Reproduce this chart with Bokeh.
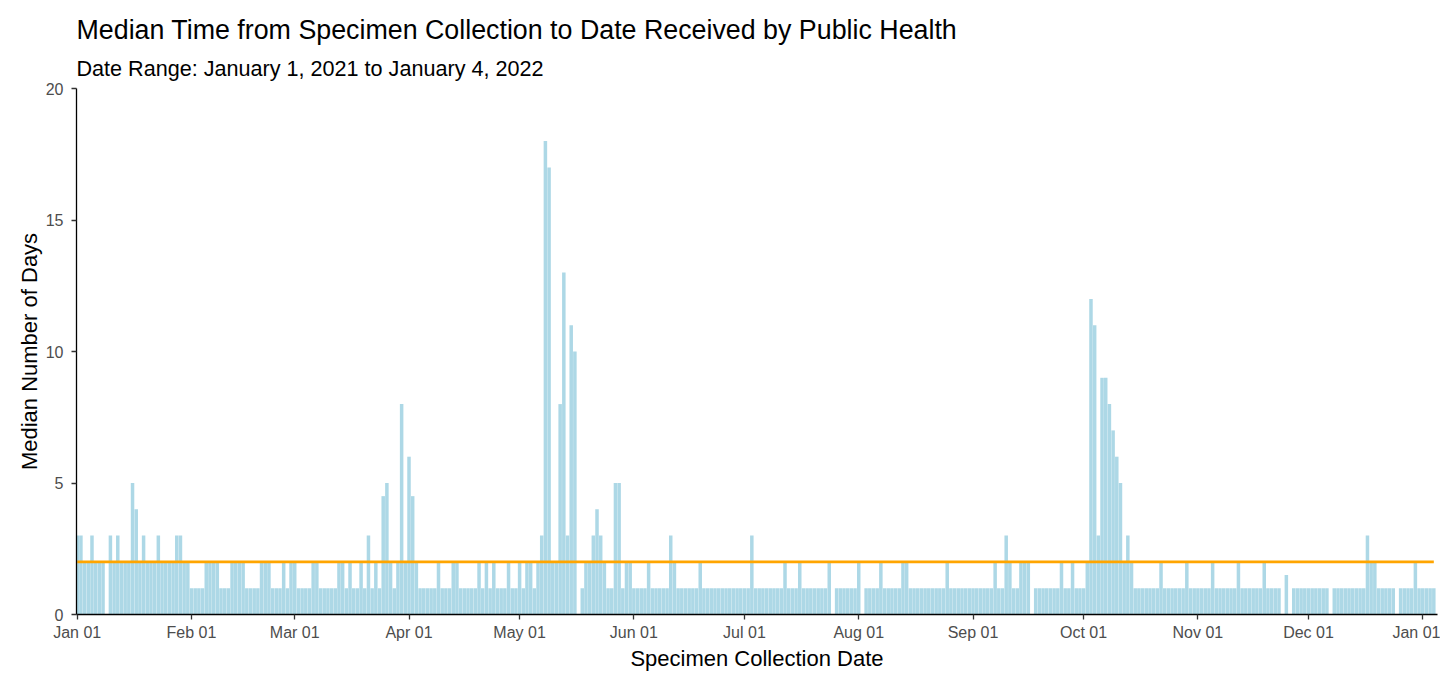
import numpy as np
import pandas as pd
from bokeh.plotting import figure
from bokeh.models import ColumnDataSource, FixedTicker, Title, Range1d
from bokeh.embed import file_html
from bokeh.resources import INLINE

FIRST_DATE = "2021-01-01"
LAST_DATE = "2022-01-04"

# Median number of days, one value per specimen collection date (None = no data)
jan_2021 = [3, 3, 2, 2, 3, 2, 2, 2, None, 3, 2, 3, 2, 2, 2, 5, 4, 2, 3, 2, 2, 2, 3, 2, 2, 2, 2, 3, 3, 2, 2]
feb_2021 = [1, 1, 1, 1, 2, 2, 2, 2, 1, 1, 1, 2, 2, 2, 2, 1, 1, 1, 1, 2, 2, 2, 1, 1, 1, 2, 1, 2]
mar_2021 = [2, 1, 1, 1, 1, 2, 2, 1, 1, 1, 1, 1, 2, 2, 1, 2, 1, 1, 2, 1, 3, 1, 2, 1, 4.5, 5, 2, 1, 2, 8, 2]
apr_2021 = [6, 4.5, 2, 1, 1, 1, 1, 1, 2, 1, 1, 1, 2, 2, 1, 1, 1, 1, 1, 2, 1, 2, 1, 2, 1, 1, 1, 2, 1, 1]
may_2021 = [2, 1, 2, 2, 1, 2, 3, 18, 17, 2, 2, 8, 13, 3, 11, 10, None, 1, 2, 2, 3, 4, 3, 2, 1, 1, 5, 5, 1, 2, 2]
jun_2021 = [1, 1, 1, 1, 2, 1, 1, 1, 1, 1, 3, 2, 1, 1, 1, 1, 1, 1, 2, 1, 1, 1, 1, 1, 1, 1, 1, 1, 1, 1]
jul_2021 = [1, 1, 3, 1, 1, 1, 1, 1, 1, 1, 1, 2, 1, 1, 1, 2, 1, 1, 1, 1, 1, 1, 1, 2, None, 1, 1, 1, 1, 1, 1]
aug_2021 = [2, None, 1, 1, 1, 1, 2, 1, 1, 1, 1, 1, 2, 2, 1, 1, 1, 1, 1, 1, 1, 1, 1, 1, 2, 1, 1, 1, 1, 1, 1]
sep_2021 = [1, 1, 1, 1, 1, 1, 2, 1, 1, 3, 2, 1, 1, 2, 2, 2, None, 1, 1, 1, 1, 1, 1, 1, 2, 1, 1, 2, 1, 1]
oct_2021 = [1, 2, 12, 11, 3, 9, 9, 8, 7, 6, 5, 2, 3, 2, 1, 1, 1, 1, 1, 1, 1, 2, 1, 1, 1, 1, 1, 1, 2, 1, 1]
nov_2021 = [1, 1, 1, 1, 2, 1, 1, 1, 1, 1, 1, 2, 1, 1, 1, 1, 1, 1, 2, 1, 1, 1, 1, None, 1.5, None, 1, 1, 1, 1]
dec_2021 = [1, 1, 1, 1, 1, 1, None, 1, 1, 1, 1, 1, 1, 1, 1, 1, 3, 2, 2, 1, 1, 1, 1, 1, None, 1, 1, 1, 1, 2, 1]
jan_2022 = [1, 1, 1, 1]

target_days = 2

tick_dates = ["2021-01-01", "2021-02-01", "2021-03-01", "2021-04-01", "2021-05-01", "2021-06-01",
              "2021-07-01", "2021-08-01", "2021-09-01", "2021-10-01", "2021-11-01", "2021-12-01",
              "2022-01-01"]
tick_labels = ["Jan 01", "Feb 01", "Mar 01", "Apr 01", "May 01", "Jun 01", "Jul 01", "Aug 01",
               "Sep 01", "Oct 01", "Nov 01", "Dec 01", "Jan 01"]
y_ticks = [0, 5, 10, 15, 20]

title_text = "Median Time from Specimen Collection to Date Received by Public Health"
subtitle_text = "Date Range: January 1, 2021 to January 4, 2022"
x_label = "Specimen Collection Date"
y_label = "Median Number of Days"

median_days = (jan_2021 + feb_2021 + mar_2021 + apr_2021 + may_2021 + jun_2021 + jul_2021 +
               aug_2021 + sep_2021 + oct_2021 + nov_2021 + dec_2021 + jan_2022)

dates = pd.date_range(FIRST_DATE, LAST_DATE, freq="D")
n = min(len(dates), len(median_days))
dates = dates[:n]
day_index = np.asarray((dates - dates[0]).days, dtype=float)
vals = np.array([np.nan if v is None else v for v in median_days[:n]], dtype=float)
mask = ~np.isnan(vals)

bar_src = ColumnDataSource(dict(x=day_index[mask], top=vals[mask]))
line_src = ColumnDataSource(dict(x=day_index, y=np.full(n, float(target_days))))

tick_pos = [int((pd.Timestamp(d) - dates[0]).days) for d in tick_dates]

FONT = "Liberation Sans"

p = figure(width=1440, height=673, output_backend="svg", toolbar_location=None,
           x_range=Range1d(-0.2, day_index[-1] + 1.0), y_range=Range1d(0, 20),
           min_border_left=76, min_border_right=3, min_border_top=88, min_border_bottom=55)
p.title.text = ""

p.add_layout(Title(text=subtitle_text, align="left", text_font=FONT, text_font_size="21.6px",
                   text_font_style="normal", text_color="#000000", standoff=16), "above")
p.add_layout(Title(text=title_text, align="left", text_font=FONT, text_font_size="26.8px",
                   text_font_style="normal", text_color="#000000", standoff=2), "above")

p.vbar(x="x", top="top", width=0.95, source=bar_src, fill_color="#ADD8E6", line_color=None)
p.line(x="x", y="y", source=line_src, line_color="#FFA500", line_width=2.7)

p.xgrid.visible = False
p.ygrid.visible = False
p.outline_line_color = None
p.background_fill_color = "white"
p.border_fill_color = "white"

for ax in (p.xaxis[0], p.yaxis[0]):
    ax.axis_line_color = "#000000"
    ax.axis_line_width = 1.3
    ax.major_tick_line_color = "#333333"
    ax.major_tick_line_width = 1.3
    ax.major_tick_out = 5
    ax.major_tick_in = 0
    ax.minor_tick_line_color = None
    ax.major_label_text_font = FONT
    ax.major_label_text_font_size = "16px"
    ax.major_label_text_color = "#4D4D4D"
    ax.axis_label_text_font = FONT
    ax.axis_label_text_font_size = "22px"
    ax.axis_label_text_font_style = "normal"
    ax.axis_label_text_color = "#000000"

p.xaxis.ticker = FixedTicker(ticks=tick_pos)
p.xaxis.major_label_overrides = {pos: lab for pos, lab in zip(tick_pos, tick_labels)}
p.xaxis.axis_label = x_label
p.xaxis.major_label_standoff = 4
p.xaxis.axis_label_standoff = 2

p.yaxis.ticker = FixedTicker(ticks=y_ticks)
p.yaxis.axis_label = y_label
p.yaxis.major_label_standoff = 8
p.yaxis.axis_label_standoff = 1

open("out.html", "w").write(file_html(p, INLINE))
